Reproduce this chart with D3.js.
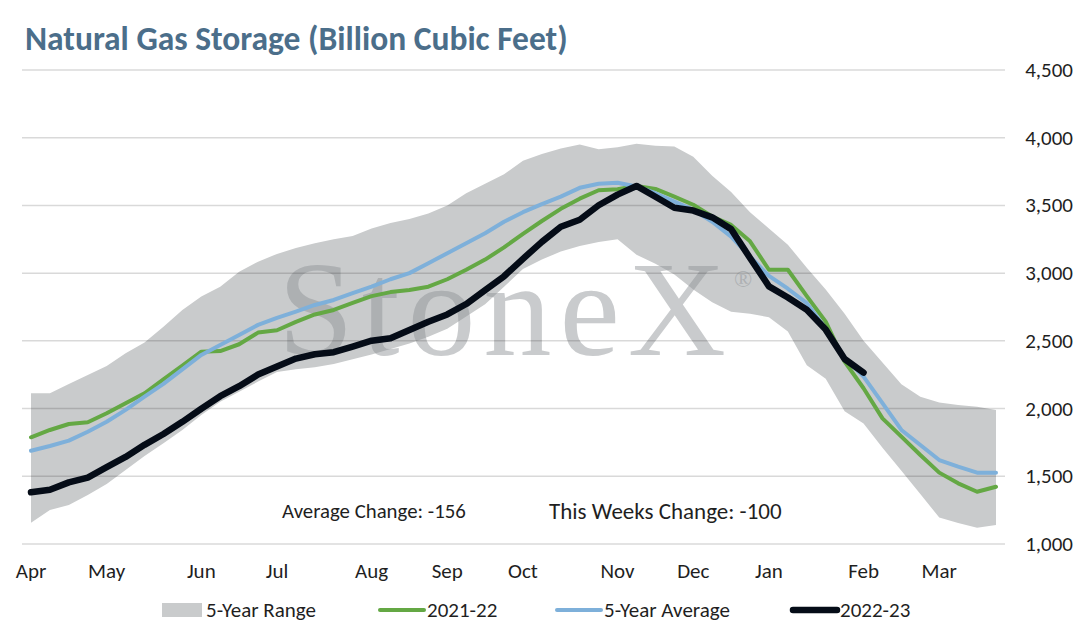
<!DOCTYPE html>
<html>
<head>
<meta charset="utf-8">
<script src="https://cdn.jsdelivr.net/npm/d3@7"></script>
<style>
  body { margin: 0; background: #fff; }
  svg text { font-family: Calibri, Carlito, Lato, "Open Sans", sans-serif; }
</style>
</head>
<body>
<svg id="chart" width="1075" height="633"></svg>
<script>
// Month labels and the week index (0 = first week of April) they sit on
const months = ["Apr", "May", "Jun", "Jul", "Aug", "Sep", "Oct", "Nov", "Dec", "Jan", "Feb", "Mar"];
const monthWeeks = [0, 4, 9, 13, 18, 22, 26, 31, 35, 39, 44, 48];

const yTicks = [1000, 1500, 2000, 2500, 3000, 3500, 4000, 4500];

// 5-year range, weekly (Bcf)
const rangeMax = [2113, 2113, 2182, 2248, 2315, 2408, 2487, 2605, 2728, 2827, 2900, 3011, 3085,
  3142, 3185, 3220, 3250, 3275, 3330, 3370, 3400, 3440, 3500, 3590, 3660, 3730, 3830,
  3880, 3920, 3950, 3915, 3930, 3955, 3940, 3935, 3860, 3720, 3600, 3450, 3330, 3210,
  3040, 2880, 2700, 2500, 2340, 2180, 2088, 2044, 2027, 2014, 1990];
const rangeMin = [1157, 1251, 1288, 1362, 1443, 1547, 1650, 1744, 1842, 1953, 2051, 2125, 2199,
  2270, 2290, 2305, 2330, 2365, 2400, 2440, 2480, 2530, 2590, 2680, 2770, 2900, 3030,
  3100, 3160, 3200, 3230, 3250, 3135, 3070, 2990, 2880, 2785, 2715, 2700, 2675, 2570,
  2320, 2220, 1980, 1890, 1710, 1540, 1370, 1195, 1155, 1120, 1140];

// 5-year average
const avg5 = [1689, 1724, 1763, 1829, 1903, 1990, 2088, 2182, 2290, 2396, 2470, 2544, 2618,
  2670, 2716, 2765, 2802, 2852, 2900, 2955, 3000, 3073, 3147, 3221, 3295, 3380, 3450,
  3510, 3565, 3630, 3660, 3668, 3640, 3590, 3528, 3467, 3380, 3270, 3122, 2980, 2885,
  2778, 2590, 2375, 2236, 2040, 1842, 1731, 1620, 1571, 1527, 1527];

// 2021-22 season
const y2122 = [1788, 1842, 1886, 1899, 1965, 2040, 2113, 2216, 2318, 2420, 2425, 2475, 2561,
  2578, 2640, 2695, 2728, 2780, 2830, 2860, 2876, 2900, 2955, 3025, 3100, 3190, 3290,
  3385, 3475, 3550, 3612, 3620, 3644, 3622, 3565, 3505, 3418, 3356, 3235, 3025, 3025,
  2830, 2642, 2347, 2150, 1928, 1793, 1657, 1527, 1448, 1386, 1423];

// 2022-23 season (to date)
const y2223 = [1382, 1400, 1455, 1490, 1567, 1643, 1732, 1812, 1902, 1999, 2091, 2165, 2251,
  2311, 2369, 2401, 2416, 2457, 2501, 2519, 2580, 2641, 2695, 2772, 2875, 2977, 3106,
  3231, 3342, 3394, 3501, 3580, 3644, 3564, 3483, 3462, 3412, 3325, 3112, 2902, 2820,
  2729, 2583, 2366, 2266];

const avgChange = -156;
const weekChange = -100;

const TEXT = "#1f1f1f";
const colors = {
  range: "#c9cbcc",
  y2122: "#64a844",
  avg: "#7eb0da",
  y2223: "#050c17"
};

const svg = d3.select("#chart");

const x = d3.scaleLinear().domain([0, rangeMax.length - 1]).range([31, 996]);
const y = d3.scaleLinear().domain([1000, 4500]).range([544, 70]);

// Title
svg.append("text")
  .attr("x", 25)
  .attr("y", 50)
  .attr("font-size", 33.5)
  .attr("font-weight", 700)
  .attr("fill", "#4b6e8a")
  .text("Natural Gas Storage (Billion Cubic Feet)");

// 5-year range band
const band = d3.area()
  .x((d, i) => x(i))
  .y0((d, i) => y(rangeMin[i]))
  .y1(d => y(d));

svg.append("path")
  .datum(rangeMax)
  .attr("fill", colors.range)
  .attr("d", band);

// Watermark
const wm = svg.append("g").attr("fill", "#8e9296").attr("opacity", 0.47);
wm.append("text")
  .attr("x", 278)
  .attr("y", 355)
  .attr("font-size", 136)
  .attr("letter-spacing", 8)
  .style("font-family", "'Liberation Serif', 'Times New Roman', serif")
  .text("StoneX");
wm.append("text")
  .attr("x", 734)
  .attr("y", 287)
  .attr("font-size", 24)
  .style("font-family", "'Liberation Serif', serif")
  .text("®");

// Gridlines (drawn over the band so they show through)
svg.append("g")
  .selectAll("line")
  .data(yTicks)
  .join("line")
  .attr("x1", 22).attr("x2", 1005)
  .attr("y1", d => y(d)).attr("y2", d => y(d))
  .attr("stroke", "#000")
  .attr("stroke-opacity", 0.15)
  .attr("stroke-width", 1.5);

// Right axis labels
svg.append("g")
  .selectAll("text")
  .data(yTicks)
  .join("text")
  .attr("x", 1073)
  .attr("y", d => y(d) + 7)
  .attr("text-anchor", "end")
  .attr("font-size", 21)
  .attr("fill", TEXT)
  .text(d => d3.format(",")(d));

// Month labels
svg.append("g")
  .selectAll("text")
  .data(months)
  .join("text")
  .attr("x", (d, i) => x(monthWeeks[i]))
  .attr("y", 578)
  .attr("text-anchor", "middle")
  .attr("font-size", 21)
  .attr("fill", TEXT)
  .text(d => d);

// Series lines
const line = d3.line()
  .x((d, i) => x(i))
  .y(d => y(d));

svg.append("path")
  .datum(y2122)
  .attr("fill", "none")
  .attr("stroke", colors.y2122)
  .attr("stroke-width", 4)
  .attr("stroke-linejoin", "round")
  .attr("stroke-linecap", "round")
  .attr("d", line);

svg.append("path")
  .datum(avg5)
  .attr("fill", "none")
  .attr("stroke", colors.avg)
  .attr("stroke-width", 4)
  .attr("stroke-linejoin", "round")
  .attr("stroke-linecap", "round")
  .attr("d", line);

svg.append("path")
  .datum(y2223)
  .attr("fill", "none")
  .attr("stroke", colors.y2223)
  .attr("stroke-width", 6.5)
  .attr("stroke-linejoin", "round")
  .attr("stroke-linecap", "round")
  .attr("d", line);

// Change annotations
svg.append("text")
  .attr("x", 282)
  .attr("y", 518)
  .attr("font-size", 20.8)
  .attr("fill", TEXT)
  .text(`Average Change: ${avgChange}`);

svg.append("text")
  .attr("x", 549)
  .attr("y", 519)
  .attr("font-size", 23)
  .attr("fill", TEXT)
  .text(`This Weeks Change: ${weekChange}`);

// Legend
const legendY = 610;
const legend = svg.append("g").attr("font-size", 21).attr("fill", TEXT);

legend.append("rect")
  .attr("x", 162).attr("y", legendY - 7)
  .attr("width", 40).attr("height", 14)
  .attr("fill", colors.range);
legend.append("text").attr("x", 206).attr("y", legendY + 7).text("5-Year Range");

const legendLines = [
  { label: "2021-22", color: colors.y2122, width: 4, x: 380 },
  { label: "5-Year Average", color: colors.avg, width: 4, x: 557 },
  { label: "2022-23", color: colors.y2223, width: 6.5, x: 793 }
];
legendLines.forEach(l => {
  legend.append("line")
    .attr("x1", l.x).attr("x2", l.x + 44)
    .attr("y1", legendY).attr("y2", legendY)
    .attr("stroke", l.color)
    .attr("stroke-width", l.width)
    .attr("stroke-linecap", "round");
  legend.append("text").attr("x", l.x + 47).attr("y", legendY + 7).text(l.label);
});
</script>
</body>
</html>
